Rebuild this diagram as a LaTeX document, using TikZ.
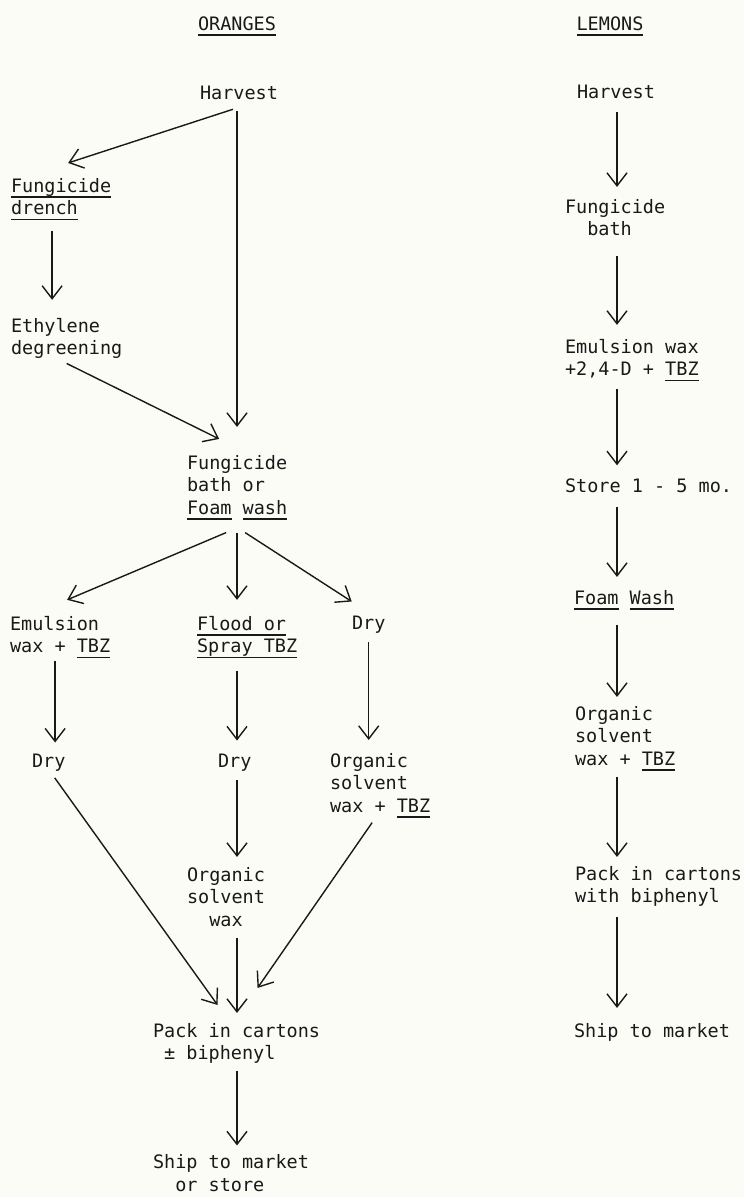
\documentclass[tikz,border=0pt]{standalone}
\usepackage{fontspec}
\usepackage{tikz}
\usetikzlibrary{arrows.meta, calc}
\newfontfamily\typer{DejaVu Sans Mono}
\definecolor{paper}{RGB}{252,252,247}
\definecolor{ink}{RGB}{25,25,25}
% typewriter underline
\newcommand\tul[1]{\setbox0\hbox{#1}\rlap{\rule[-5.6pt]{\wd0}{1.2pt}}\box0\relax}
\frenchspacing

\begin{document}
\begin{tikzpicture}[x=1pt, y=-1pt, >={Straight Barb[length=13pt,width=20pt]},
    every node/.style={font=\typer\fontsize{18.5}{22.5}\selectfont, text=ink,
      inner sep=0pt, outer sep=0pt, anchor=base west, align=left},
    flow/.style={->, draw=ink, line width=1.4pt},
    gap/.style 2 args={shorten <=#1, shorten >=#2}]
    \fill[paper] (0,0) rectangle (744,1197);

    % Oranges (multi-line nodes sit on their last line)
    \node (otitle) [anchor=base] at (237,30) {\tul{ORANGES}};
    \node (oharv) at (200,99) {Harvest};
    \node (odrench) at (11,214.5) {\tul{Fungicide}\\\tul{drench}};
    \node (oethyl) at (11,354.5) {Ethylene\\degreening};
    \node (obath) at (187,514) {Fungicide\\bath or\\\tul{Foam} \tul{wash}};
    \node (oemul) at (10,652.5) {Emulsion\\wax + \tul{TBZ}};
    \node (oflood) at (197,652.5) {\tul{Flood or}\\\tul{Spray TBZ}};
    \node (odry) at (352,629) {Dry};
    \node (odryl) at (32,767) {Dry};
    \node (odrym) at (218,767) {Dry};
    \node (osolv) at (330,812) {Organic\\solvent\\wax + \tul{TBZ}};
    \node (owax) at (187,926) {Organic\\solvent\\\hphantom{xx}wax};
    \node (opack) at (153,1059.5) {Pack in cartons\\\hphantom{x}± biphenyl};
    \node (oship) at (153,1191) {Ship to market\\\hphantom{xx}or store};
    \coordinate (ospine) at (237,0);

    \draw[flow] ([xshift=-6pt,yshift=-10pt]oharv.south) -- ([xshift=7pt,yshift=15pt]odrench.north);
    \draw[flow, gap={12pt}{28pt}] (ospine |- oharv.south) -- (ospine |- obath.north);
    \draw[flow, gap={11pt}{18pt}] ([xshift=-9pt]odrench.south) -- ([xshift=-9pt]odrench.south |- oethyl.north);
    \draw[flow] ([yshift=-5pt]oethyl.south) -- ([xshift=-18pt,yshift=16pt]obath.north);
    \draw[flow] ([xshift=-11pt,yshift=-13pt]obath.south) -- ([xshift=7pt,yshift=16pt]oemul.north);
    \draw[flow, gap={13pt}{16pt}] (ospine |- obath.south) -- (ospine |- oflood.north);
    \draw[flow] ([xshift=8pt,yshift=-13pt]obath.south) -- ([xshift=-17pt,yshift=14pt]odry.north);
    \draw[flow, gap={3pt}{11pt}] ([xshift=-5pt]oemul.south) -- ([xshift=-5pt]oemul.south |- odryl.north);
    \draw[flow, gap={13pt}{13pt}] (ospine |- oflood.south) -- (ospine |- odrym.north);
    \draw[flow, gap={9pt}{13pt}] (odry.south) -- (odry.south |- osolv.north);
    \draw[flow, gap={9pt}{10pt}] (ospine |- odrym.south) -- (ospine |- owax.north);
    \draw[flow, gap={12pt}{10pt}] (ospine |- owax.south) -- (ospine |- opack.north);
    \draw[flow] ([xshift=6pt,yshift=-7pt]odryl.south) -- ([xshift=-19pt,yshift=18pt]opack.north);
    \draw[flow] ([xshift=-8pt,yshift=-5pt]osolv.south) -- ([xshift=21pt,yshift=35pt]opack.north);
    \draw[flow, gap={8pt}{9pt}] (ospine |- opack.south) -- (ospine |- oship.north);

    % Lemons
    \node (ltitle) [anchor=base] at (610,30) {\tul{LEMONS}};
    \node (lharv) at (577,98) {Harvest};
    \node (lbath) at (565,235.5) {Fungicide\\\hphantom{xx}bath};
    \node (lemul) at (565,375.5) {Emulsion wax\\+2,4-D + \tul{TBZ}};
    \node (lstore) at (565,492) {Store 1 - 5 mo.};
    \node (lfoam) at (574,604) {\tul{Foam} \tul{Wash}};
    \node (lsolv) at (575,765) {Organic\\solvent\\wax + \tul{TBZ}};
    \node (lpack) at (575,902.5) {Pack in cartons\\with biphenyl};
    \node (lship) at (574,1037) {Ship to market};
    \coordinate (lspine) at (617,0);

    \foreach \a/\b/\p/\q in {lharv/lbath/14pt/12pt, lbath/lemul/20pt/14pt,
        lemul/lstore/8pt/13pt, lstore/lfoam/15pt/13pt, lfoam/lsolv/15pt/9pt,
        lsolv/lpack/6pt/9pt, lpack/lship/11pt/15pt}
      \draw[flow, gap={\p}{\q}] (lspine |- \a.south) -- (lspine |- \b.north);
\end{tikzpicture}
\end{document}
